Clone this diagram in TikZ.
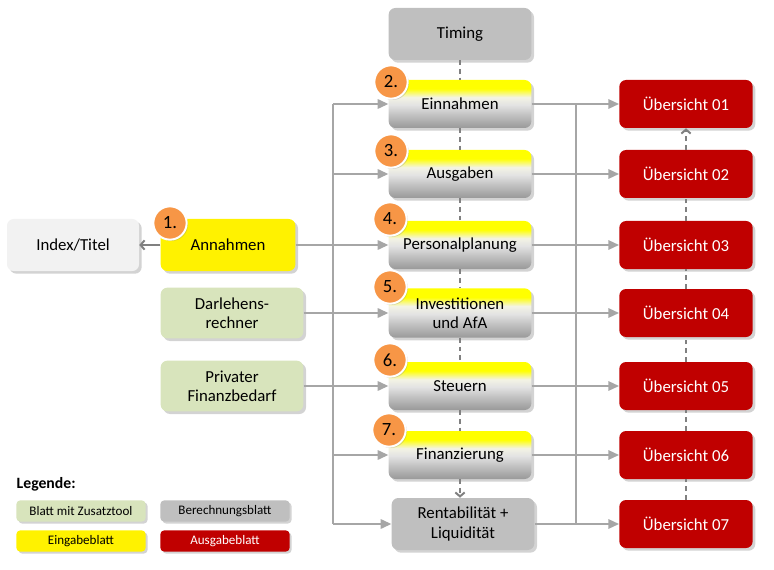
\documentclass[tikz,border=0pt]{standalone}
\usepackage{fontspec}
\setmainfont{Carlito}
\usetikzlibrary{arrows.meta,positioning,shadows}
\definecolor{dunkelrot}{RGB}{192,0,0}
\definecolor{hellgruen}{RGB}{216,228,188}
\definecolor{mittelgrau}{RGB}{191,191,191}
\definecolor{hellgrau}{RGB}{242,242,242}
\definecolor{kreisorange}{RGB}{247,150,70}
\definecolor{liniengrau}{RGB}{166,166,166}
\pgfdeclareverticalshading{gelbgrau}{100bp}{color(0bp)=(gray!80); color(25bp)=(gray!80); color(38bp)=(gray!50); color(49bp)=(gray!22); color(57bp)=(yellow!40!gray!15); color(66bp)=(yellow); color(100bp)=(yellow)}

\begin{document}
\begin{tikzpicture}[x=0.75pt, y=-0.75pt,
  every node/.style={rectangle, rounded corners=5pt, align=center, font=\fontsize{12.6}{14.5}\selectfont},
  blatt/.style={minimum width=107pt, minimum height=36pt, drop shadow={shadow xshift=2pt, shadow yshift=-2pt, opacity=0.35}},
  berechnung/.style={blatt, fill=mittelgrau},
  eingabe/.style={blatt, shading=gelbgrau},
  tool/.style={blatt, fill=hellgruen},
  ausgabe/.style={blatt, fill=dunkelrot, text=white, minimum width=100pt},
  nummer/.style={circle, fill=kreisorange, draw=white, line width=1.5pt, minimum size=25pt, inner sep=0pt, font=\fontsize{14}{16}\selectfont, drop shadow={shadow xshift=1pt, shadow yshift=-1pt, opacity=0.3}},
  legende/.style={minimum width=97pt, minimum height=16pt, rounded corners=3pt, font=\fontsize{9.8}{11}\selectfont, drop shadow={shadow xshift=1.5pt, shadow yshift=-1.5pt, opacity=0.35}},
  linie/.style={draw=liniengrau, line width=1.5pt},
  pfeil/.style={linie, -{Triangle[length=8pt, width=7pt]}},
  strich/.style={draw=gray, line width=1.5pt, dash pattern=on 3.5pt off 3pt},
  strichpfeil/.style={strich, -{Straight Barb[length=3pt, width=7pt]}}]
\useasboundingbox (0,0) rectangle (774,570);

\node[berechnung, minimum height=39pt] (timing) at (460,34) {Timing};
\node[eingabe] (einnahmen) at (460,104) {Einnahmen};
\node[eingabe] (ausgaben) at (460,174) {Ausgaben};
\node[eingabe] (personal) at (460,245) {Personalplanung};
\node[eingabe, minimum height=37pt] (invest) at (460,313) {Investitionen\\und AfA};
\node[eingabe] (steuern) at (460,386) {Steuern};
\node[eingabe] (finanz) at (460,455) {Finanzierung};
\node[berechnung, minimum height=39pt] (rentab) at (463,524) {Rentabilität +\\Liquidität};

\node[blatt, fill=hellgrau, minimum width=99pt, minimum height=39pt] (index) at (73,245) {Index/Titel};
\node[blatt, fill=yellow, minimum width=101pt, minimum height=39pt] (annahmen) at (228,245) {Annahmen};
\node[tool, minimum height=38pt] (darlehen) at (232,313) {Darlehens-\\rechner};
\node[tool, minimum height=38pt] (privat) at (232,386) {Privater\\Finanzbedarf};

\foreach \i/\y in {1/104,2/174,3/245,4/313,5/386,6/455,7/524}
  \node[ausgabe] (ueb\i) at (686,\y) {Übersicht 0\i};

\node[nummer] (n1) at (170,223) {1.};
\node[nummer] (n2) at (391,82) {2.};
\node[nummer] (n3) at (391,151) {3.};
\node[nummer] (n4) at (390,219) {4.};
\node[nummer] (n5) at (390,287) {5.};
\node[nummer] (n6) at (390,360) {6.};
\node[nummer] (n7) at (389,430) {7.};

\coordinate (lbus) at (333,0);
\coordinate (rbus) at (576,0);

\draw[strich] (timing) -- (einnahmen);
\draw[strich] (einnahmen) -- (ausgaben);
\draw[strich] (ausgaben) -- (personal);
\draw[strich] (personal) -- (invest);
\draw[strich] (invest) -- (steuern);
\draw[strich] (steuern) -- (finanz);
\draw[strichpfeil] (finanz.south) -- (finanz.south |- rentab.north);
\draw[strich] (ueb7) -- (ueb6);
\draw[strich] (ueb6) -- (ueb5);
\draw[strich] (ueb5) -- (ueb4);
\draw[strich] (ueb4) -- (ueb3);
\draw[strich] (ueb3) -- (ueb2);
\draw[strichpfeil] (ueb2) -- (ueb1);

\draw[linie, -{Straight Barb[length=3pt, width=7pt]}, draw=gray] (annahmen) -- (index);
\draw[linie] (lbus |- einnahmen) -- (lbus |- rentab);
\draw[linie] (rbus |- einnahmen) -- (rbus |- rentab);
\foreach \n in {einnahmen,ausgaben,finanz,rentab}
  \draw[pfeil] (lbus |- \n) -- (\n);
\draw[pfeil] (annahmen) -- (personal);
\draw[pfeil] (darlehen) -- (invest);
\draw[pfeil] (privat) -- (steuern);
\draw[pfeil] (einnahmen) -- (ueb1);
\draw[pfeil] (ausgaben) -- (ueb2);
\draw[pfeil] (personal) -- (ueb3);
\draw[pfeil] (invest) -- (ueb4);
\draw[pfeil] (steuern) -- (ueb5);
\draw[pfeil] (finanz) -- (ueb6);
\draw[pfeil] (rentab) -- (ueb7);

\node[anchor=west, font=\bfseries\fontsize{11.8}{13}\selectfont] (legtitel) at (12,484) {Legende:};
\node[legende, fill=hellgruen] (leg1) at (81,511) {Blatt mit Zusatztool};
\node[legende, fill=mittelgrau] (leg2) at (225,511) {Berechnungsblatt};
\node[legende, fill=yellow] (leg3) at (81,541) {Eingabeblatt};
\node[legende, fill=dunkelrot, text=white] (leg4) at (225,541) {Ausgabeblatt};
\end{tikzpicture}
\end{document}
